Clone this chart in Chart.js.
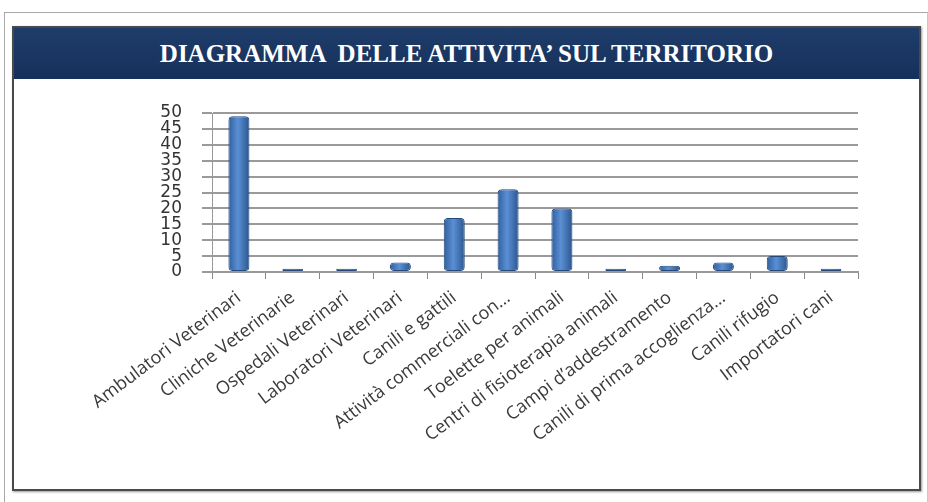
<!DOCTYPE html>
<html><head><meta charset="utf-8">
<script src="https://cdn.jsdelivr.net/npm/chart.js@4/dist/chart.umd.min.js"></script>
<style>
html,body{margin:0;padding:0;background:#fff;width:928px;height:502px;overflow:hidden;}
#outer{position:absolute;left:4px;top:12px;width:924px;height:500px;border-left:1px solid #a8a8a8;border-top:1px solid #a8a8a8;border-right:1px solid #c8c8c8;box-sizing:border-box;}
#box{position:absolute;left:12px;top:26px;width:909px;height:465px;border:2px solid #4a4a4a;box-sizing:border-box;background:#fff;box-shadow:1px 1px 2px #999;}
#head{position:absolute;left:0;top:0;right:0;height:51px;background:linear-gradient(#1f3d6b,#15305a);color:#fff;font-family:"Liberation Serif","DejaVu Serif",serif;font-weight:bold;font-size:25px;text-align:center;line-height:51px;letter-spacing:0px;white-space:pre;}
#wrap{position:absolute;left:12px;top:80px;width:906px;height:406px;}
</style></head>
<body>
<div id="outer"></div>
<div id="box"><div id="head">DIAGRAMMA  DELLE ATTIVITA’ SUL TERRITORIO</div></div>
<div id="wrap"><canvas id="c" width="906" height="406"></canvas></div>
<script>
const categories = ["Ambulatori Veterinari","Cliniche Veterinarie","Ospedali Veterinari","Laboratori Veterinari","Canili e gattili","Attività commerciali con…","Toelette per animali","Centri di fisioterapia animali","Campi d’addestramento","Canili di prima accoglienza…","Canili rifugio","Importatori cani"];
const values = [49,1,1,3,17,26,20,1,2,3,5,1];
const yTicks = [0,5,10,15,20,25,30,35,40,45,50];

const ctx = document.getElementById('c').getContext('2d');
new Chart(ctx, {
  type: 'bar',
  data: {
    labels: categories,
    datasets: [{
      data: values,
      backgroundColor: (c) => {
        const ch = c.chart; const ca = ch.chartArea; const sx = ch.scales && ch.scales.x;
        if (!ca || !sx || c.dataIndex === undefined) return '#4a7ebf';
        const x = sx.getPixelForValue(c.dataIndex);
        if (!isFinite(x)) return '#4a7ebf';
        const w = 21;
        const g = ch.ctx.createLinearGradient(x - w/2, 0, x + w/2, 0);
        g.addColorStop(0, '#2f5f9e'); g.addColorStop(0.45, '#5b8fd4'); g.addColorStop(1, '#2a568f');
        return g;
      },
      borderColor: '#24497a',
      borderWidth: 1,
      borderRadius: 4,
      borderSkipped: false,
      barPercentage: 0.39,
      categoryPercentage: 1
    }]
  },
  options: {
    responsive: false,
    animation: false,
    layout: { padding: { top: 33, right: 60, left: 0, bottom: 0 } },
    plugins: { legend: { display: false }, tooltip: { enabled: false } },
    scales: {
      x: {
        offset: true,
        grid: { drawOnChartArea: false, color: '#888', tickLength: 7, offset: true },
        border: { color: '#999', width: 2 },
        ticks: { autoSkip: false, maxRotation: 37, minRotation: 37, color: '#3a3a3a', font: { family: 'Open Sans', size: 18 }, padding: 8 },
        afterFit: (s) => { s.height = 214; }
      },
      y: {
        min: 0, max: 50,
        afterBuildTicks: (s) => { s.ticks = yTicks.map(v => ({ value: v })); },
        grid: { color: '#9a9a9a', lineWidth: 2, tickLength: 10, drawTicks: true },
        border: { display: true, color: '#999', width: 1 },
        ticks: { autoSkip: false, color: '#333', font: { family: 'DejaVu Sans', size: 17 }, padding: 20 },
        afterFit: (s) => { s.width = 200; }
      }
    }
  }
});
</script>
</body></html>
